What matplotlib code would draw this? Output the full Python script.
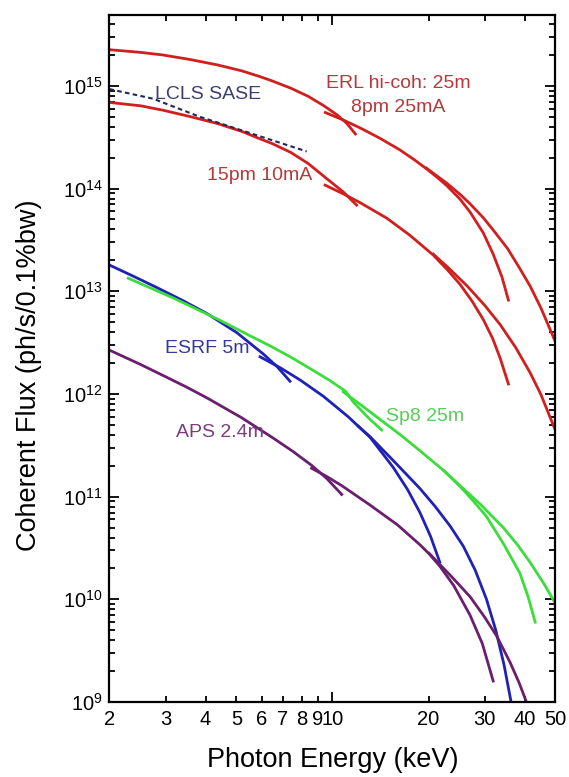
import math
import matplotlib
matplotlib.use('Agg')
import matplotlib.pyplot as plt
import matplotlib.ticker as mticker

plt.rcParams['font.family'] = ['Liberation Sans', 'DejaVu Sans']
plt.rcParams['mathtext.fontset'] = 'custom'
plt.rcParams['mathtext.rm'] = 'Liberation Sans'

# ERL hi-coh 25m, 8pm 25mA
erl8_h1_e = [2.0, 2.5, 2.94, 3.6, 4.36, 5.2, 5.93, 6.46, 7.4, 8.4, 9.4, 10.35, 11.1, 11.8]
erl8_h1_f = [2.25e15, 2.12e15, 2.0e15, 1.8e15, 1.6e15, 1.4e15, 1.23e15, 1.12e15, 9.5e14,
             7.9e14, 6.4e14, 5.2e14, 4.3e14, 3.4e14]
erl8_h3_e = [9.5, 10.8, 12.2, 14.0, 16.2, 18.0, 19.7, 21.2, 22.8, 25.1, 27.0, 29.7, 31.9, 34.0, 35.6]
erl8_h3_f = [5.5e14, 4.66e14, 3.9e14, 3.12e14, 2.4e14, 1.92e14, 1.56e14, 1.3e14, 1.07e14,
             7.9e13, 5.9e13, 3.7e13, 2.3e13, 1.37e13, 8.2e12]
erl8_h5_e = [19.7, 22.8, 25.1, 27.0, 29.7, 32.0, 35.4, 38.5, 41.6, 45.0, 50.0]
erl8_h5_f = [1.58e14, 1.13e14, 8.8e13, 7.1e13, 5.2e13, 3.9e13, 2.6e13, 1.7e13, 1.13e13, 6.9e12, 3.2e12]

# ERL 15pm 10mA
erl15_h1_e = [2.0, 2.5, 2.94, 3.6, 4.36, 5.2, 5.93, 6.46, 7.4, 8.4, 9.59, 10.8, 11.9]
erl15_h1_f = [6.9e14, 6.4e14, 5.8e14, 5.0e14, 4.3e14, 3.6e14, 3.05e14, 2.75e14, 2.25e14,
              1.75e14, 1.25e14, 9.3e13, 6.9e13]
erl15_h3_e = [9.48, 10.8, 12.2, 14.8, 17.5, 20.7, 23.0, 25.1, 27.4, 29.7, 31.8, 33.6, 35.6]
erl15_h3_f = [1.08e14, 8.9e13, 7.3e13, 5.15e13, 3.5e13, 2.25e13, 1.6e13, 1.17e13, 8.0e12,
              5.3e12, 3.45e12, 2.2e12, 1.25e12]
erl15_h5_e = [20.7, 23.0, 26.4, 30.0, 33.6, 37.5, 41.6, 45.0, 50.0]
erl15_h5_f = [2.3e13, 1.71e13, 1.13e13, 7.3e12, 4.7e12, 2.84e12, 1.62e12, 9.9e11, 4.4e11]

# LCLS SASE
lcls_e = [2.0, 2.74, 3.84, 8.3]
lcls_f = [9.3e14, 7.5e14, 5.0e14, 2.3e14]

# ESRF 5m
esrf_h1_e = [2.0, 2.4, 2.81, 3.4, 4.03, 5.01, 6.07, 6.7, 7.36]
esrf_h1_f = [1.8e13, 1.38e13, 1.09e13, 8.1e12, 6.1e12, 3.96e12, 2.45e12, 1.85e12, 1.33e12]
esrf_h3_e = [5.93, 6.9, 7.91, 9.36, 11.2, 13.1, 15.5, 17.2, 18.8, 20.3, 21.7]
esrf_h3_f = [2.3e12, 1.78e12, 1.37e12, 9.5e11, 6.0e11, 3.8e11, 1.93e11, 1.17e11, 7.0e10, 4.1e10, 2.3e10]
esrf_h5_e = [12.0, 13.1, 15.5, 18.8, 21.0, 23.4, 25.7, 28.0, 30.4, 32.5, 34.5, 36.3, 37.0]
esrf_h5_f = [4.9e11, 3.85e11, 2.25e11, 1.2e11, 8.0e10, 5.15e10, 3.3e10, 1.93e10, 1.0e10,
             5.0e9, 2.3e9, 1.0e9, 8.0e8]

# SPring-8 25m
sp8_h1_e = [2.29, 2.7, 3.17, 3.75, 4.45, 5.5, 6.4, 7.37, 8.5, 9.82, 11.0, 11.64, 13.0, 14.27]
sp8_h1_f = [1.34e13, 1.07e13, 8.6e12, 6.7e12, 5.2e12, 3.7e12, 2.92e12, 2.3e12, 1.77e12,
            1.35e12, 1.06e12, 8.3e11, 5.8e11, 4.45e11]
sp8_h3_e = [10.8, 12.5, 14.6, 16.5, 18.8, 22.3, 25.1, 27.7, 30.4, 34.5, 38.7, 41.0, 43.2]
sp8_h3_f = [1.05e12, 7.5e11, 5.2e11, 3.9e11, 2.8e11, 1.8e11, 1.26e11, 9.0e10, 6.4e10,
            3.4e10, 1.79e10, 1.07e10, 6.0e9]
sp8_h5_e = [22.3, 25.1, 29.0, 34.3, 38.0, 41.6, 46.0, 50.0]
sp8_h5_f = [1.8e11, 1.28e11, 8.5e10, 5.0e10, 3.4e10, 2.3e10, 1.42e10, 9.1e9]

# APS 2.4m
aps_h1_e = [2.0, 2.5, 3.0, 3.5, 4.03, 5.2, 6.5, 7.5, 8.6, 9.6, 10.69]
aps_h1_f = [2.67e12, 1.94e12, 1.47e12, 1.16e12, 9.2e11, 5.85e11, 3.74e11, 2.77e11, 2.02e11,
            1.5e11, 1.05e11]
aps_h3_e = [8.6, 9.6, 10.69, 13.1, 16.0, 18.8, 20.1, 21.7, 24.0, 27.0, 29.5, 31.9]
aps_h3_f = [1.89e11, 1.57e11, 1.28e11, 8.3e10, 5.3e10, 3.4e10, 2.77e10, 2.1e10, 1.36e10,
            7.0e9, 3.7e9, 1.6e9]
aps_h5_e = [20.1, 23.9, 27.0, 30.0, 32.7, 36.0, 38.5, 40.8, 41.3]
aps_h5_f = [2.8e10, 1.6e10, 1.06e10, 6.7e9, 4.4e9, 2.45e9, 1.53e9, 9.5e8, 8.5e8]

x_minor = [2, 3, 4, 5, 6, 7, 8, 9, 20, 30, 40, 50]

red = '#d11f1f'
blue = '#1f22b5'
green = '#3ddc3d'
purple = '#6a1f6e'

fig = plt.figure(figsize=(5.69, 7.77), dpi=100)
ax = fig.add_axes([0.1924, 0.0965, 0.7838, 0.8842])

lw = 2.0
groups = [
    (red, [(erl8_h1_e, erl8_h1_f), (erl8_h3_e, erl8_h3_f), (erl8_h5_e, erl8_h5_f),
           (erl15_h1_e, erl15_h1_f), (erl15_h3_e, erl15_h3_f), (erl15_h5_e, erl15_h5_f)]),
    (blue, [(esrf_h1_e, esrf_h1_f), (esrf_h3_e, esrf_h3_f), (esrf_h5_e, esrf_h5_f)]),
    (green, [(sp8_h1_e, sp8_h1_f), (sp8_h3_e, sp8_h3_f), (sp8_h5_e, sp8_h5_f)]),
    (purple, [(aps_h1_e, aps_h1_f), (aps_h3_e, aps_h3_f), (aps_h5_e, aps_h5_f)]),
]
for col, curves in groups:
    for e, f in curves:
        ax.plot(e, f, color=col, lw=lw, solid_joinstyle='round')
ax.plot(lcls_e, lcls_f, color='#1f2a5a', lw=1.5, ls=(0, (2.2, 1.6)))

ax.set_xscale('log')
ax.set_yscale('log')
ax.set_xlim(2, 50)
ax.set_ylim(1e9, 4.9e15)

ax.set_xticks([10])
ax.set_xticklabels(['10'])
ax.set_xticks(x_minor, labels=[str(v) for v in x_minor], minor=True)
ax.yaxis.set_major_locator(mticker.LogLocator(base=10, numticks=20))
ax.yaxis.set_minor_locator(mticker.LogLocator(base=10, subs=range(2, 10), numticks=20))
ax.yaxis.set_minor_formatter(mticker.NullFormatter())
ax.yaxis.set_major_formatter(mticker.FuncFormatter(
    lambda v, p: r'$\mathregular{10^{%d}}$' % round(math.log10(v))))

ax.tick_params(which='both', direction='in', top=True, right=True, width=1.3, labelsize=14.5)
ax.tick_params(which='major', length=7)
ax.tick_params(which='minor', length=4)
ax.tick_params(axis='x', which='both', pad=6)
ax.tick_params(axis='y', which='both', pad=5)
for s in ax.spines.values():
    s.set_linewidth(1.6)

ax.set_xlabel('Photon Energy (keV)', fontsize=19.5)
ax.set_ylabel('Coherent Flux (ph/s/0.1%bw)', fontsize=19.5)
ax.xaxis.set_label_coords(0.5, -0.066)
ax.yaxis.set_label_coords(-0.151, 0.476)

lab = dict(transform=ax.transAxes, ha='center', va='center', fontsize=14)
ax.text(0.647, 0.901, 'ERL hi-coh: 25m', color='#b8383a', **lab)
ax.text(0.647, 0.866, '8pm 25mA', color='#b8383a', **lab)
ax.text(0.221, 0.885, 'LCLS SASE', color='#3c3f6e', **lab)
ax.text(0.337, 0.767, '15pm 10mA', color='#b8383a', **lab)
ax.text(0.220, 0.515, 'ESRF 5m', color='#343a96', **lab)
ax.text(0.707, 0.415, 'Sp8 25m', color='#5acc5a', **lab)
ax.text(0.248, 0.392, 'APS 2.4m', color='#7b3d7f', **lab)

fig.savefig('out.png', dpi=100)
